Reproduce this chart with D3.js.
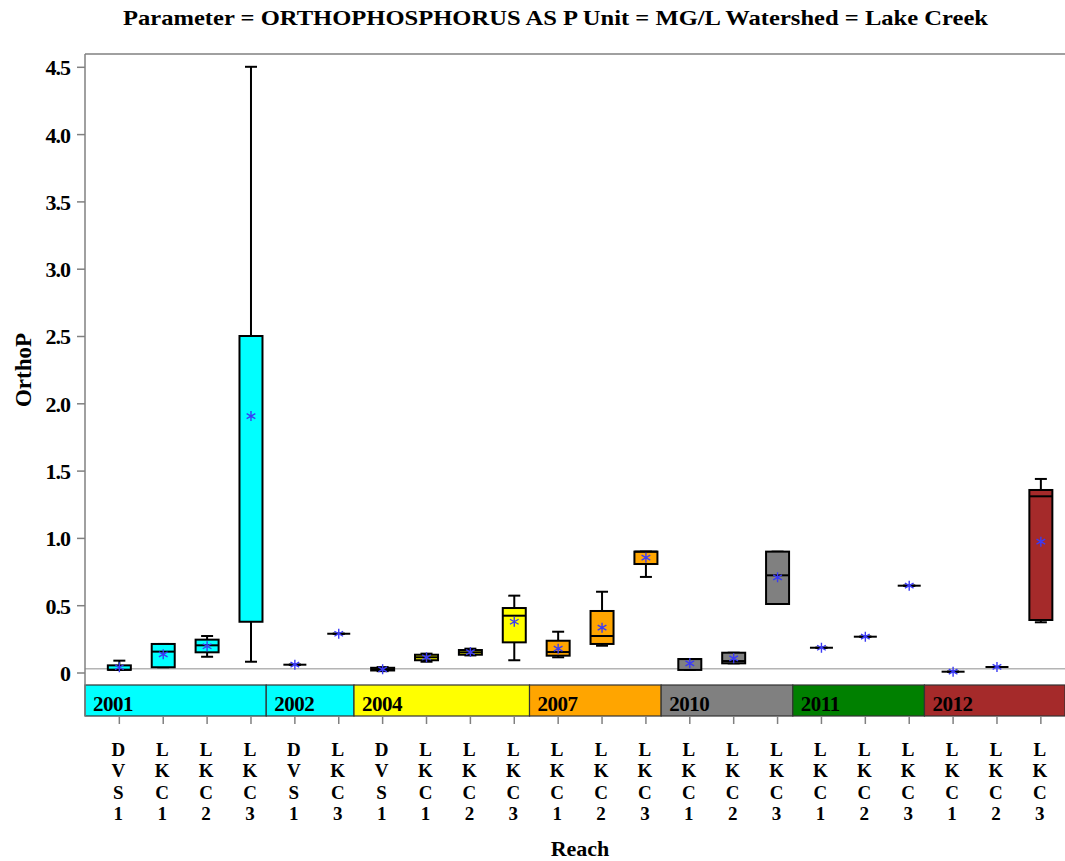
<!DOCTYPE html>
<html lang="en">
    <head>
        <meta charset="utf-8">
        <script type="text/javascript" src="https://cdn.jsdelivr.net/npm/d3@7"></script>
        <title>OrthoP by reach</title>
        <style>
          body { margin: 0; background: #fff; }
          text { font-family: "Liberation Serif", serif; font-weight: bold; fill: #000; }
        </style>
    </head>
    <body>
        <script type="text/javascript">
          // data, one entry per box
          var years   = ["2001","2001","2001","2001","2002","2002","2004","2004","2004","2004","2007","2007","2007","2010","2010","2010","2011","2011","2011","2012","2012","2012"];
          var reaches = ["DVS1","LKC1","LKC2","LKC3","DVS1","LKC3","DVS1","LKC1","LKC2","LKC3","LKC1","LKC2","LKC3","LKC1","LKC2","LKC3","LKC1","LKC2","LKC3","LKC1","LKC2","LKC3"];
          var mins    = [0.020,0.039,0.117,0.080,0.058,0.288,0.010,0.080,0.127,0.091,0.113,0.199,0.710,0.019,0.068,0.509,0.184,0.266,0.645,0.006,0.041,0.373];
          var q1s     = [0.020,0.039,0.150,0.377,0.058,0.288,0.015,0.091,0.132,0.224,0.125,0.212,0.806,0.019,0.068,0.509,0.184,0.266,0.645,0.006,0.041,0.390];
          var medians = [0.020,0.155,0.202,2.500,0.058,0.288,0.025,0.113,0.150,0.422,0.152,0.271,0.898,0.100,0.085,0.722,0.184,0.266,0.645,0.006,0.041,1.309];
          var q3s     = [0.053,0.212,0.244,2.500,0.058,0.288,0.035,0.132,0.167,0.479,0.236,0.457,0.898,0.100,0.147,0.898,0.184,0.266,0.645,0.006,0.041,1.356];
          var maxs    = [0.088,0.212,0.271,4.500,0.058,0.288,0.040,0.140,0.177,0.571,0.303,0.600,0.898,0.100,0.147,0.898,0.184,0.266,0.645,0.006,0.041,1.438];
          var means   = [0.039,0.135,0.195,1.905,0.058,0.288,0.024,0.113,0.152,0.377,0.177,0.333,0.853,0.068,0.105,0.707,0.184,0.266,0.645,0.006,0.041,0.972];
          var yearList   = ["2001","2002","2004","2007","2010","2011","2012"];
          var yearColors = ["#00ffff","#00ffff","#ffff00","#ffa500","#808080","#008000","#a52a2a"];
          var yTicks = [0, 0.5, 1.0, 1.5, 2.0, 2.5, 3.0, 3.5, 4.0, 4.5];
          var refLine = 0.028;

          var w = 1065;
          var h = 861;
          var margin = {top: 54, left: 85, right: 0, bottom: 145};
          var plotBottom = h - margin.bottom;   // bottom of the year band
          var bandH = 31;

          var svg = d3.select("body").append("svg")
                      .attr("width", w)
                      .attr("height", h);

          // scales
          var idx = d3.range(reaches.length);
          var xscale = d3.scaleBand()
            .domain(idx)
            .range([97.4, 1062.8])
            .padding(0);
          var bw = xscale.bandwidth();
          function cx(i) { return xscale(i) + bw / 2; }

          var yscale = d3.scaleLinear()
            .domain([0, 4.5])
            .range([672.5, 66.8]);

          var colorOf = d3.scaleOrdinal().domain(yearList).range(yearColors);

          // frame
          svg.append("line")
            .attr("x1", margin.left).attr("x2", w)
            .attr("y1", margin.top).attr("y2", margin.top)
            .attr("stroke", "#808080").attr("stroke-width", 1.5);

          // reference line
          svg.append("line")
            .attr("x1", margin.left).attr("x2", w)
            .attr("y1", yscale(refLine)).attr("y2", yscale(refLine))
            .attr("stroke", "#b4b4b4").attr("stroke-width", 1.5);

          // year band
          var yearSpans = yearList.map(function(y, k) {
            var first = years.indexOf(y);
            var last = years.lastIndexOf(y);
            var x0 = k == 0 ? margin.left : xscale(first) - 6.7;
            var x1 = k == yearList.length - 1 ? w : xscale(last + 1) - 6.7;
            return {year: y, x0: x0, x1: x1};
          });
          var band = svg.append("g");
          band.selectAll("rect")
            .data(yearSpans)
            .enter()
            .append("rect")
            .attr("x", function(d) { return d.x0; })
            .attr("y", plotBottom - bandH)
            .attr("width", function(d) { return d.x1 - d.x0; })
            .attr("height", bandH)
            .attr("fill", function(d) { return colorOf(d.year); })
            .attr("stroke", "#333")
            .attr("stroke-width", 1.2);
          band.selectAll("text")
            .data(yearSpans)
            .enter()
            .append("text")
            .attr("x", function(d) { return d.x0 + 8; })
            .attr("y", plotBottom - 5)
            .style("font-size", "21px")
            .style("letter-spacing", "-0.5px")
            .text(function(d) { return d.year; });

          // y axis
          var yaxis = d3.axisLeft(yscale)
            .tickValues(yTicks)
            .tickSize(8)
            .tickPadding(7)
            .tickFormat(function(d) { return d == 0 ? "0" : d3.format(".1f")(d); });
          var gy = svg.append("g")
            .attr("transform", "translate(" + margin.left + ",0)")
            .call(yaxis);
          gy.select(".domain").remove();
          gy.selectAll(".tick line").attr("stroke", "#808080").attr("stroke-width", 1.5);
          gy.selectAll(".tick text")
            .style("font-size", "22px")
            .style("font-family", "Liberation Serif, serif")
            .style("letter-spacing", "-1px")
            .attr("dy", "0.36em");
          svg.append("line")
            .attr("x1", margin.left).attr("x2", margin.left)
            .attr("y1", margin.top).attr("y2", plotBottom)
            .attr("stroke", "#808080").attr("stroke-width", 1.5);

          // x axis with stacked letters
          var xaxis = d3.axisBottom(xscale)
            .tickSize(8)
            .tickFormat("");
          var gx = svg.append("g")
            .attr("transform", "translate(0," + plotBottom + ")")
            .call(xaxis);
          gx.select(".domain").remove();
          gx.selectAll(".tick line").attr("stroke", "#808080").attr("stroke-width", 1.5);
          gx.selectAll(".tick")
            .append("text")
            .style("font-size", "19px")
            .style("font-family", "Liberation Serif, serif")
            .attr("text-anchor", "middle")
            .each(function(i) {
              var t = d3.select(this);
              reaches[i].split("").forEach(function(ch, k) {
                t.append("tspan")
                  .attr("x", -1)
                  .attr("y", 40 + k * 21.3)
                  .text(ch);
              });
            });

          // boxes
          var boxW = 23;
          var capW = 12;
          var boxes = svg.append("g").selectAll("g")
            .data(idx)
            .enter()
            .append("g");

          boxes.append("line")
            .attr("x1", cx).attr("x2", cx)
            .attr("y1", function(i) { return yscale(maxs[i]); })
            .attr("y2", function(i) { return yscale(q3s[i]); })
            .attr("stroke", "#000").attr("stroke-width", 2);
          boxes.append("line")
            .attr("x1", cx).attr("x2", cx)
            .attr("y1", function(i) { return yscale(q1s[i]); })
            .attr("y2", function(i) { return yscale(mins[i]); })
            .attr("stroke", "#000").attr("stroke-width", 2);
          boxes.append("line")
            .attr("x1", function(i) { return cx(i) - capW / 2; })
            .attr("x2", function(i) { return cx(i) + capW / 2; })
            .attr("y1", function(i) { return yscale(maxs[i]); })
            .attr("y2", function(i) { return yscale(maxs[i]); })
            .attr("stroke", "#000").attr("stroke-width", 2);
          boxes.append("line")
            .attr("x1", function(i) { return cx(i) - capW / 2; })
            .attr("x2", function(i) { return cx(i) + capW / 2; })
            .attr("y1", function(i) { return yscale(mins[i]); })
            .attr("y2", function(i) { return yscale(mins[i]); })
            .attr("stroke", "#000").attr("stroke-width", 2);
          boxes.append("rect")
            .attr("x", function(i) { return cx(i) - boxW / 2; })
            .attr("y", function(i) { return yscale(q3s[i]); })
            .attr("width", boxW)
            .attr("height", function(i) { return yscale(q1s[i]) - yscale(q3s[i]); })
            .attr("fill", function(i) { return colorOf(years[i]); })
            .attr("stroke", "#000")
            .attr("stroke-width", 2);
          boxes.append("line")
            .attr("x1", function(i) { return cx(i) - boxW / 2; })
            .attr("x2", function(i) { return cx(i) + boxW / 2; })
            .attr("y1", function(i) { return yscale(medians[i]); })
            .attr("y2", function(i) { return yscale(medians[i]); })
            .attr("stroke", "#000").attr("stroke-width", 2);

          // mean markers (asterisk)
          var r = 5;
          var star = "M0," + (-r) + "L0," + r +
                     "M" + (-r * 0.87) + "," + (-r * 0.5) + "L" + (r * 0.87) + "," + (r * 0.5) +
                     "M" + (-r * 0.87) + "," + (r * 0.5) + "L" + (r * 0.87) + "," + (-r * 0.5);
          boxes.append("path")
            .attr("d", star)
            .attr("transform", function(i) { return "translate(" + cx(i) + "," + yscale(means[i]) + ")"; })
            .attr("fill", "none")
            .attr("stroke", "#3b3bf5")
            .attr("stroke-width", 1.4);

          // titles
          svg.append("text")
            .attr("x", 555.5)
            .attr("y", 25)
            .attr("text-anchor", "middle")
            .attr("textLength", 865)
            .attr("lengthAdjust", "spacingAndGlyphs")
            .style("font-size", "21px")
            .text("Parameter = ORTHOPHOSPHORUS  AS  P  Unit = MG/L  Watershed = Lake  Creek");
          svg.append("text")
            .attr("x", 580)
            .attr("y", 856)
            .attr("text-anchor", "middle")
            .style("font-size", "22px")
            .text("Reach");
          svg.append("text")
            .attr("transform", "translate(31,370) rotate(-90)")
            .attr("text-anchor", "middle")
            .style("font-size", "23px")
            .text("OrthoP");
        </script>
    </body>
</html>
